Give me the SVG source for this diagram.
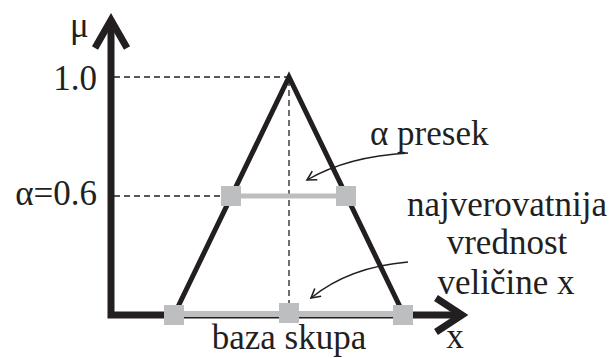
<svg xmlns="http://www.w3.org/2000/svg" width="612" height="358" viewBox="0 0 612 358">
<style>
.t{font-family:"Liberation Serif","Times New Roman",serif;font-size:35px;fill:#231f20}
.ax{stroke:#231f20;stroke-width:7;fill:none}
.ah{stroke:#231f20;stroke-width:7;fill:none;stroke-linecap:butt;stroke-linejoin:miter}
.dash{stroke:#231f20;stroke-width:1.3;stroke-dasharray:6,4;fill:none}
.tri{stroke:#231f20;stroke-width:5;fill:none;stroke-linejoin:miter}
.cut{stroke:#bcbec0;stroke-width:5;fill:none}
.sq{fill:#bcbec0}
.ca{stroke:#231f20;stroke-width:1.4;fill:none}
</style>
<defs>
<marker id="oa" viewBox="0 0 12 12" refX="10" refY="6" markerWidth="12" markerHeight="12" markerUnits="userSpaceOnUse" orient="auto">
<path d="M1,1 L10,6 L1,11" fill="none" stroke="#231f20" stroke-width="1.6"/>
</marker>
</defs>
<g id="axes">
<path class="ax" d="M111,20 V315 H462"/>
<path class="ah" d="M95,48 L111,20 L127,48"/>
<path class="ah" d="M436,298 L462,315 L436,332"/>
</g>
<g id="guides">
<path class="dash" d="M114,77 H289"/>
<path class="dash" d="M114,196 H221"/>
<path class="dash" d="M289,80 V305"/>
</g>
<g id="triangle">
<path class="tri" d="M174,315 L289,77 L404,315"/>
</g>
<g id="alpha-cut">
<path class="cut" d="M231,196 H346"/>
<rect class="sq" x="221" y="186" width="20" height="20"/>
<rect class="sq" x="336" y="186" width="20" height="20"/>
</g>
<g id="base">
<path class="cut" d="M174,314 H404" style="stroke-width:6"/>
<rect class="sq" x="164" y="305" width="20" height="20"/>
<rect class="sq" x="279" y="303" width="20" height="20"/>
<rect class="sq" x="393" y="305" width="20" height="20"/>
</g>
<g id="connectors">
<path class="ca" d="M408,153 C372,155 338,162 307,180" marker-end="url(#oa)"/>
<path class="ca" d="M408,262 C372,265 338,276 311,298" marker-end="url(#oa)"/>
</g>
<g id="labels">
<text class="t" x="70" y="37">μ</text>
<text class="t" x="97" y="90" text-anchor="end">1.0</text>
<text class="t" x="97" y="205" text-anchor="end">α=0.6</text>
<text class="t" x="370" y="145">α presek</text>
<text class="t" x="507" y="216" text-anchor="middle">najverovatnija</text>
<text class="t" x="507" y="254" text-anchor="middle">vrednost</text>
<text class="t" x="506" y="294" text-anchor="middle">veličine x</text>
<text class="t" x="289" y="349" text-anchor="middle">baza skupa</text>
<text class="t" x="455" y="348" text-anchor="middle">x</text>
</g>
</svg>
